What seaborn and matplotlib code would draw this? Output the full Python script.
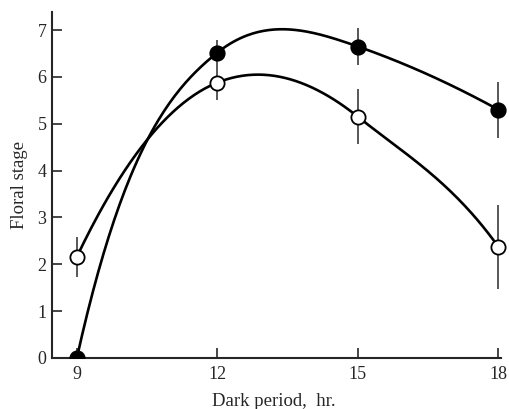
import numpy as np
import pandas as pd
import matplotlib
matplotlib.use("Agg")
import matplotlib.pyplot as plt
import seaborn as sns

# Data
dark_period = [9, 12, 15, 18]
filled_stage = [0.0, 6.52, 6.65, 5.30]
filled_err = [0.0, 0.27, 0.40, 0.60]
open_stage = [2.16, 5.88, 5.15, 2.37]
open_err = [0.43, 0.38, 0.59, 0.90]
# slopes of the hand-drawn curves at each point
filled_slope = [4.5, 0.8, -0.35, -0.55]
open_slope = [2.1, 0.4, -0.8, -1.4]
x_ticks = [9, 12, 15, 18]
y_ticks = [0, 1, 2, 3, 4, 5, 6, 7]

sns.set_style("ticks")
plt.rcParams['font.family'] = ['Liberation Serif', 'DejaVu Serif']

fig = plt.figure(figsize=(5.10, 4.09), dpi=100)
x_lo, x_hi = 8.47, 18.2
ax = fig.add_axes([0.102, 0.1247, 0.880 * (x_hi - x_lo) / (18.05 - x_lo), 0.8463])


def hermite(xs, ys, ms, n=80):
    out_x, out_y = [], []
    for i in range(len(xs) - 1):
        h = xs[i + 1] - xs[i]
        t = np.linspace(0, 1, n)
        h00 = 2 * t**3 - 3 * t**2 + 1
        h10 = t**3 - 2 * t**2 + t
        h01 = -2 * t**3 + 3 * t**2
        h11 = t**3 - t**2
        yy = h00 * ys[i] + h10 * h * ms[i] + h01 * ys[i + 1] + h11 * h * ms[i + 1]
        out_x.extend(xs[i] + t * h)
        out_y.extend(yy)
    return np.array(out_x), np.array(out_y)


for ys, ms in ((filled_stage, filled_slope), (open_stage, open_slope)):
    xx, yy = hermite(dark_period, ys, ms)
    sns.lineplot(x=xx, y=yy, ax=ax, color="black", linewidth=1.9,
                 estimator=None, sort=False)

ax.errorbar(dark_period, filled_stage, yerr=filled_err, fmt="none",
            ecolor="#4a4a4a", elinewidth=1.3, capsize=0, clip_on=False, zorder=3)
ax.errorbar(dark_period, open_stage, yerr=open_err, fmt="none",
            ecolor="#4a4a4a", elinewidth=1.3, capsize=0, clip_on=False, zorder=3)

sns.scatterplot(x=dark_period, y=filled_stage, ax=ax, s=110, color="black",
                edgecolor="black", linewidth=1.2, zorder=5)
sns.scatterplot(x=dark_period, y=open_stage, ax=ax, s=105, color="white",
                edgecolor="black", linewidth=1.3, zorder=5)

ax.set_xlim(x_lo, x_hi)
ax.set_ylim(0, 7.39)
ax.set_xticks(x_ticks)
ax.set_yticks(y_ticks)
ax.tick_params(direction="in", length=7, width=1.2, labelsize=13, pad=4)
ax.tick_params(axis="x", pad=6)
for s in ("top", "right"):
    ax.spines[s].set_visible(False)
for s in ("left", "bottom"):
    ax.spines[s].set_linewidth(1.5)
ax.spines["bottom"].set_bounds(x_lo, 18.05)

ax.set_xlabel("Dark period,  hr.", fontsize=13.5)
ax.xaxis.set_label_coords((13.2 - x_lo) / (x_hi - x_lo), -0.10)
ax.set_ylabel("Floral stage", fontsize=13.5, labelpad=7)

fig.savefig("out.png", dpi=100)
